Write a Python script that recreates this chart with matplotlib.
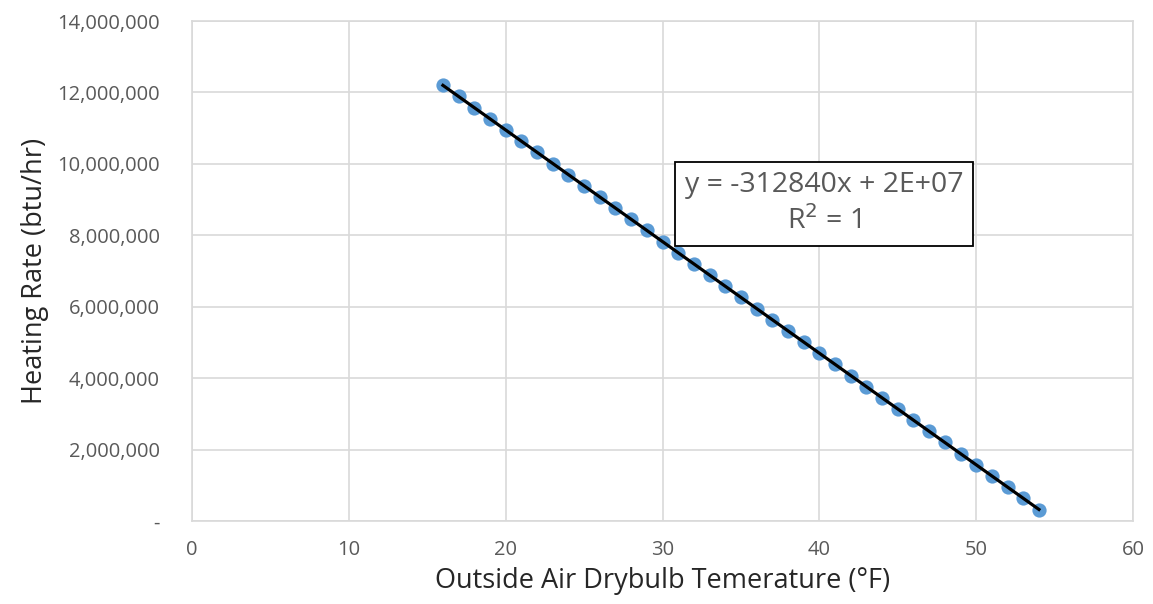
import numpy as np
import matplotlib
matplotlib.use("Agg")
import matplotlib.pyplot as plt
from matplotlib.ticker import FuncFormatter

temps = list(range(16, 55))
heating = [12200000, 11890000, 11570000, 11260000, 10950000, 10640000, 10320000,
           10010000, 9700000, 9390000, 9070000, 8760000, 8450000, 8140000,
           7820000, 7510000, 7200000, 6890000, 6570000, 6260000, 5950000,
           5640000, 5320000, 5010000, 4700000, 4390000, 4070000, 3760000,
           3450000, 3140000, 2820000, 2510000, 2200000, 1890000, 1570000,
           1260000, 950000, 640000, 320000]
x_ticks = [0, 10, 20, 30, 40, 50, 60]
y_ticks = [0, 2000000, 4000000, 6000000, 8000000, 10000000, 12000000, 14000000]
eq_text = "y = -312840x + 2E+07\nR$^2$ = 1"

plt.rcParams['font.family'] = ['Open Sans', 'DejaVu Sans']

fig = plt.figure(figsize=(11.53, 6.04), dpi=100)
ax = fig.add_axes([0.1665, 0.1374, 0.8162, 0.8278])

ax.set_xlim(0, 60)
ax.set_ylim(0, 14000000)
ax.set_xticks(x_ticks)
ax.set_yticks(y_ticks)
ax.grid(True, color='#d9d9d9', linewidth=1.2)
ax.set_axisbelow(True)
for s in ax.spines.values():
    s.set_color('#d9d9d9')
    s.set_linewidth(1.2)
ax.tick_params(length=0, labelsize=14.5, labelcolor='#595959')
ax.tick_params(axis='y', pad=23)
ax.tick_params(axis='x', pad=14)
ax.yaxis.set_major_formatter(FuncFormatter(lambda v, p: '-' if v == 0 else f"{int(v):,}"))

ax.scatter(temps, heating, s=105, color='#5b9bd5', zorder=3, linewidths=0)
coef = np.polyfit(temps, heating, 1)
xs = np.array([temps[0], temps[-1]])
ax.plot(xs, np.polyval(coef, xs), color='black', linewidth=2.3, zorder=4)

ax.text(40.3, 8.88e6, eq_text, ha='center', va='center', fontsize=20.5,
        color='#595959', linespacing=1.3,
        bbox=dict(boxstyle='square,pad=0.33', facecolor='white', edgecolor='black', linewidth=1.3),
        zorder=5)

ax.set_xlabel('Outside Air Drybulb Temerature (°F)', fontsize=19.5, color='#262626', labelpad=5)
ax.set_ylabel('Heating Rate (btu/hr)', fontsize=19.5, color='#262626', labelpad=6)

fig.savefig('out.png', dpi=100)
